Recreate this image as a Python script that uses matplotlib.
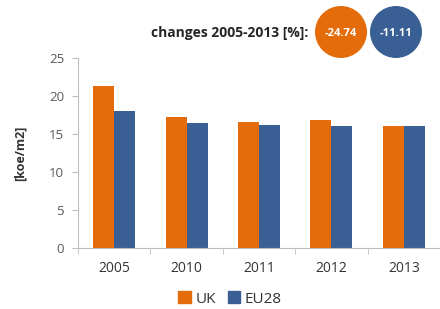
import matplotlib
matplotlib.use("Agg")
import matplotlib.pyplot as plt
from matplotlib.patches import Ellipse, Patch
import numpy as np

years = ["2005", "2010", "2011", "2012", "2013"]
uk = [21.3, 17.2, 16.6, 16.85, 16.03]
eu28 = [18.0, 16.5, 16.2, 16.05, 16.0]
changes = ["-24.74", "-11.11"]
series_names = ["UK", "EU28"]

orange = "#E46C0A"
blue = "#3A5F94"
tick_color = "#595959"
W, H = 440, 309

plt.rcParams['font.family'] = ['Open Sans', 'DejaVu Sans']
fig = plt.figure(figsize=(W / 100, H / 100), dpi=100)
ax = fig.add_axes([78 / W, (H - 248) / H, 362 / W, (248 - 58) / H])

x = np.arange(len(years))
bw = 0.29
ax.bar(x - bw / 2, uk, bw, color=orange, label=series_names[0])
ax.bar(x + bw / 2, eu28, bw, color=blue, label=series_names[1])

ax.set_xlim(-0.5, len(years) - 0.5)
ax.set_ylim(0, 25)
ax.set_yticks([0, 5, 10, 15, 20, 25])
ax.set_xticks(x)
ax.set_xticklabels(years)
ax.set_xticks(np.arange(-0.5, len(years), 1.0), minor=True)
ax.tick_params(axis='x', which='major', length=0, pad=9, labelsize=10, labelcolor="#333333")
ax.tick_params(axis='x', which='minor', length=4, color="#BFBFBF")
ax.tick_params(axis='y', length=4, color="#BFBFBF", labelsize=9.5, labelcolor=tick_color, pad=6)
for s in ["top", "right"]:
    ax.spines[s].set_visible(False)
for s in ["left", "bottom"]:
    ax.spines[s].set_color("#BFBFBF")
ax.set_ylabel("[koe/m2]", fontsize=9, fontweight="bold", color="#333333", labelpad=16)

handles = [Patch(color=orange), Patch(color=blue)]
fig.legend(handles, series_names, loc="center", bbox_to_anchor=(230 / W, 1 - 299 / H),
           ncol=2, frameon=False, fontsize=11, handlelength=0.8, handleheight=0.8,
           handletextpad=0.3, columnspacing=0.8, labelcolor="#333333")

fig.text(308 / W, 1 - 33 / H, "changes 2005-2013 [%]:", ha="right", va="center",
         fontsize=10, fontweight="bold", color="#262626")
for cx, val, col in [(341, changes[0], orange), (396, changes[1], blue)]:
    e = Ellipse((cx / W, 1 - 32 / H), 52 / W, 52 / H, transform=fig.transFigure,
                facecolor=col, edgecolor="none")
    fig.patches.append(e)
    fig.text(cx / W, 1 - 33 / H, val, ha="center", va="center", fontsize=8,
             color="white", fontweight="bold")

fig.savefig("out.png", dpi=100)
